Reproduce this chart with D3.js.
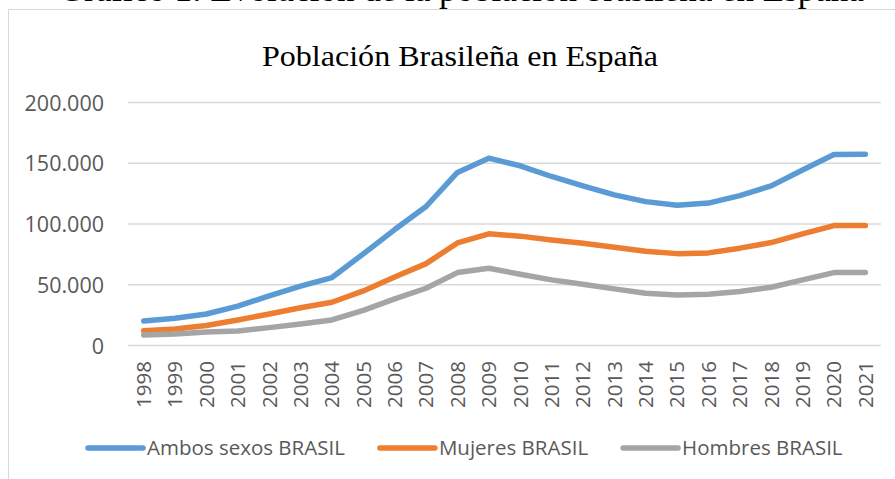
<!DOCTYPE html>
<html>
<head>
<meta charset="utf-8">
<script src="https://cdn.jsdelivr.net/npm/d3@7"></script>
<style>
  body { margin: 0; background: #fff; }
  svg { display: block; }
  .axis text { font-family: 'Open Sans', sans-serif; fill: #595959; }
  .legend text { font-family: 'Open Sans', sans-serif; fill: #595959; }
</style>
</head>
<body>
<div id="chart"></div>
<script>
// data
const years = ['1998', '1999', '2000', '2001', '2002', '2003', '2004', '2005', '2006', '2007', '2008', '2009',
  '2010', '2011', '2012', '2013', '2014', '2015', '2016', '2017', '2018', '2019', '2020', '2021'];
const ambos = [19800, 22000, 25500, 32000, 40500, 48500, 55500, 75000, 95000, 114000, 142000, 153800,
  147500, 138700, 131000, 123600, 118000, 115000, 116800, 123000, 131000, 144000, 156800, 157000];
const mujeres = [11800, 13200, 16000, 20600, 25500, 30700, 35200, 44500, 56000, 67000, 84000, 91500,
  89600, 86500, 83800, 80500, 77200, 75200, 75800, 79700, 84300, 91500, 98300, 98300];
const hombres = [8200, 9000, 10700, 11500, 14300, 17300, 20600, 28500, 38000, 46700, 59600, 63200,
  58200, 53600, 50000, 46200, 42600, 41200, 41800, 44000, 47500, 53600, 59600, 59600];
const yTicks = [0, 50000, 100000, 150000, 200000];
const seriesNames = ['Ambos sexos BRASIL', 'Mujeres BRASIL', 'Hombres BRASIL'];
const seriesColors = ['#5B9BD5', '#ED7D31', '#A5A5A5'];

const width = 895;
const height = 479;
const margin = { top: 102, right: 14, bottom: 134, left: 128 };

const series = [ambos, mujeres, hombres].map((values, i) => ({
  id: seriesNames[i],
  color: seriesColors[i],
  values: values,
}));

const svg = d3.select('#chart')
  .append('svg')
  .attr('width', width)
  .attr('height', height);

// caption of the document above, cut off by the crop (only the bottoms show)
const captionText = 'Gráfico 1: Evolución de la población brasileña en España';
const caption = svg.append('text')
  .attr('y', 0.5)
  .style('font-family', "'Liberation Serif', serif")
  .style('font-size', '32px')
  .style('fill', '#000')
  .text(captionText);
{
  // line the two "p" descenders up with the ones in the picture
  const node = caption.node();
  const p1 = captionText.indexOf('población');
  const p2 = captionText.indexOf('paña');
  const dist = node.getSubStringLength(0, p2) - node.getSubStringLength(0, p1);
  const size = 32 * 359 / dist;
  caption.style('font-size', `${size}px`);
  caption.attr('x', 439 - node.getSubStringLength(0, p1));
}

// chart area border
svg.append('rect')
  .attr('x', 8.5)
  .attr('y', 9.5)
  .attr('width', 900)
  .attr('height', 500)
  .attr('fill', '#fff')
  .attr('stroke', '#d9d9d9')
  .attr('stroke-width', 1);

svg.append('text')
  .attr('x', 460)
  .attr('y', 66)
  .attr('text-anchor', 'middle')
  .attr('textLength', 396)
  .attr('lengthAdjust', 'spacingAndGlyphs')
  .style('font-family', "'Liberation Serif', serif")
  .style('font-size', '29px')
  .style('fill', '#000')
  .text('Población Brasileña en España');

const x = d3.scaleBand()
  .domain(years)
  .range([margin.left, width - margin.right]);

const y = d3.scaleLinear()
  .domain([0, 200000])
  .range([height - margin.bottom, margin.top]);

const locale = d3.formatLocale({ decimal: ',', thousands: '.', grouping: [3], currency: ['', ''] });
const fmt = locale.format(',');

// gridlines + y labels
const yAxis = d3.axisLeft(y)
  .tickValues(yTicks)
  .tickSize(-(width - margin.right - margin.left))
  .tickPadding(24)
  .tickFormat(fmt);

svg.append('g')
  .attr('class', 'axis y')
  .attr('transform', `translate(${margin.left},0)`)
  .call(yAxis)
  .call((g) => g.select('.domain').remove())
  .call((g) => g.selectAll('line').attr('stroke', '#d9d9d9').attr('stroke-width', 1.5))
  .call((g) => g.selectAll('text').style('font-size', '21.5px').attr('dy', '0.38em'));

// rotated year labels
const xAxis = d3.axisBottom(x).tickSize(0).tickPadding(0);

svg.append('g')
  .attr('class', 'axis x')
  .attr('transform', `translate(0,${height - margin.bottom})`)
  .call(xAxis)
  .call((g) => g.select('.domain').remove())
  .call((g) => g.selectAll('text')
    .style('font-size', '20.5px')
    .attr('text-anchor', 'end')
    .attr('transform', 'rotate(-90)')
    .attr('x', -16)
    .attr('y', 0)
    .attr('dy', '0.36em'));

const makeLine = d3.line()
  .x((d, i) => x(years[i]) + x.bandwidth() / 2)
  .y((d) => y(d));

svg.append('g')
  .attr('class', 'lines')
  .selectAll('path')
  .data(series)
  .join('path')
  .attr('d', (d) => makeLine(d.values))
  .attr('fill', 'none')
  .attr('stroke', (d) => d.color)
  .attr('stroke-width', 5.5)
  .attr('stroke-linecap', 'round')
  .attr('stroke-linejoin', 'round');

// legend
const legend = svg.append('g').attr('class', 'legend');
let lx = 88;
const ly = 448;
series.forEach((s) => {
  legend.append('line')
    .attr('x1', lx)
    .attr('x2', lx + 55)
    .attr('y1', ly)
    .attr('y2', ly)
    .attr('stroke', s.color)
    .attr('stroke-width', 5.5)
    .attr('stroke-linecap', 'round');
  const t = legend.append('text')
    .attr('x', lx + 59)
    .attr('y', ly)
    .attr('dy', '0.36em')
    .style('font-size', '20.5px')
    .text(s.id);
  lx += 59 + t.node().getComputedTextLength() + 35;
});
</script>
</body>
</html>
